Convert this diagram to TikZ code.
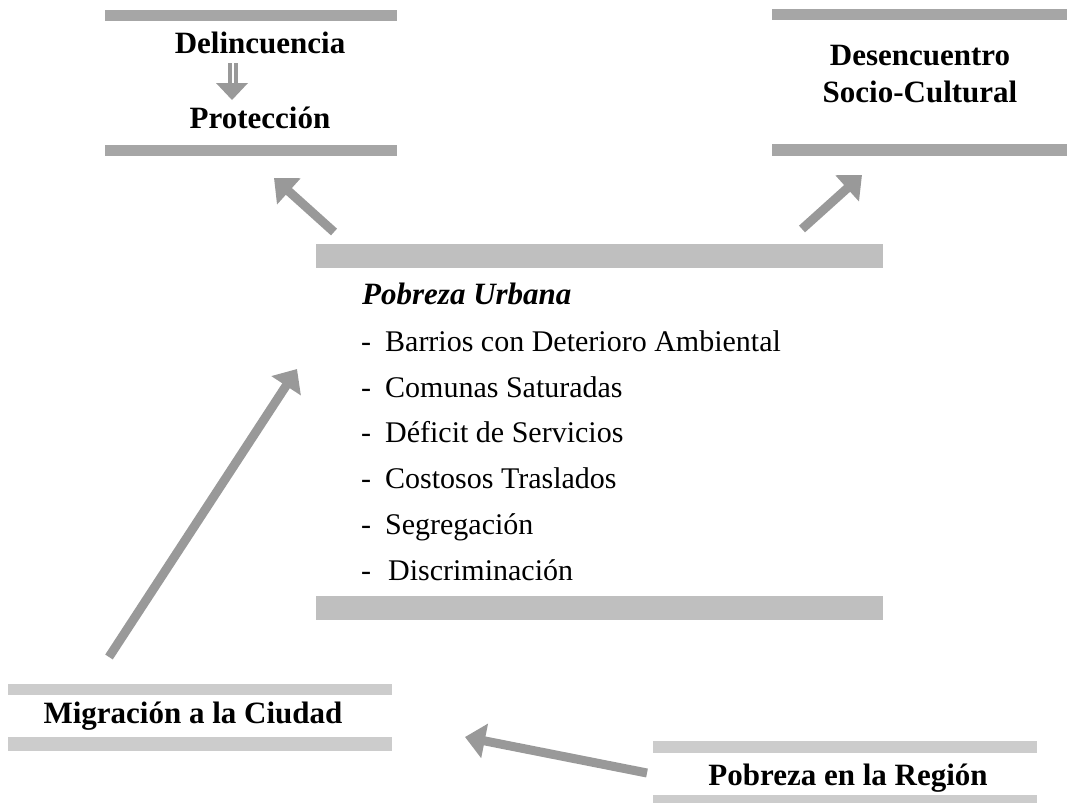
\documentclass[tikz,border=0pt]{standalone}
\usepackage{fontspec}
\setmainfont{Liberation Serif}
\usetikzlibrary{arrows.meta}
\definecolor{barA}{HTML}{A6A6A6}
\definecolor{barB}{HTML}{BFBFBF}
\definecolor{barC}{HTML}{CCCCCC}
\definecolor{arr}{HTML}{999999}
\begin{document}
\begin{tikzpicture}[x=1pt,y=-1pt,
  title/.style={font=\fontsize{31}{36}\selectfont\bfseries, inner sep=0pt, anchor=base},
  itemtext/.style={font=\fontsize{30}{36}\selectfont, inner sep=0pt, anchor=base west},
  bigarrow/.style={draw=arr, line width=9pt, -{Triangle[width=34pt,length=20pt]}}]
\useasboundingbox (0,0) rectangle (1069,803);
% bars
\fill[barA] (105,10) rectangle (397,21);
\fill[barA] (105,145) rectangle (397,156);
\fill[barA] (772,9) rectangle (1067,20);
\fill[barA] (772,144) rectangle (1067,156);
\fill[barB] (316,244) rectangle (883,268);
\fill[barB] (316,596) rectangle (883,620);
\fill[barC] (8,684) rectangle (392,695);
\fill[barC] (8,737) rectangle (392,751);
\fill[barC] (653,741) rectangle (1037,753);
\fill[barC] (653,795) rectangle (1037,803);
% titles
\node[title] (delin) at (260,53) {Delincuencia};
\node[title] (prot) at (260,128) {Protección};
\node[title] (desen) at (920,65) {Desencuentro};
\node[title] (socio) at (920,102) {Socio-Cultural};
\node[title] (migr) at (193,723) {Migración a la Ciudad};
\node[title] (preg) at (848,785) {Pobreza en la Región};
% central list
\node[itemtext, font=\fontsize{31}{36}\selectfont\bfseries\itshape] (pu) at (362,304) {Pobreza Urbana};
\node[itemtext] (i1) at (361,351) {\makebox[24pt][l]{-}Barrios con Deterioro Ambiental};
\node[itemtext] (i2) at (361,397) {\makebox[24pt][l]{-}Comunas Saturadas};
\node[itemtext] (i3) at (361,442) {\makebox[24pt][l]{-}Déficit de Servicios};
\node[itemtext] (i4) at (361,488) {\makebox[24pt][l]{-}Costosos Traslados};
\node[itemtext] (i5) at (361,534) {\makebox[24pt][l]{-}Segregación};
\node[itemtext] (i6) at (361,580) {\makebox[27pt][l]{-}Discriminación};
% small double arrow between Delincuencia and Protección
\fill[arr] (228,63) rectangle (232,84);
\fill[arr] (234,63) rectangle (238,84);
\fill[arr] (216,83) -- (248,83) -- (232,100) -- cycle;
% big arrows
\coordinate (a1s) at (334,232); \coordinate (a1e) at (274,178);
\coordinate (a2s) at (802,229); \coordinate (a2e) at (862,175);
\coordinate (a3s) at (109,657); \coordinate (a3e) at (297,369);
\coordinate (a4s) at (647,773); \coordinate (a4e) at (465,737);
\draw[bigarrow] (a1s) -- (a1e);
\draw[bigarrow] (a2s) -- (a2e);
\draw[bigarrow] (a3s) -- (a3e);
\draw[bigarrow] (a4s) -- (a4e);
\end{tikzpicture}
\end{document}
